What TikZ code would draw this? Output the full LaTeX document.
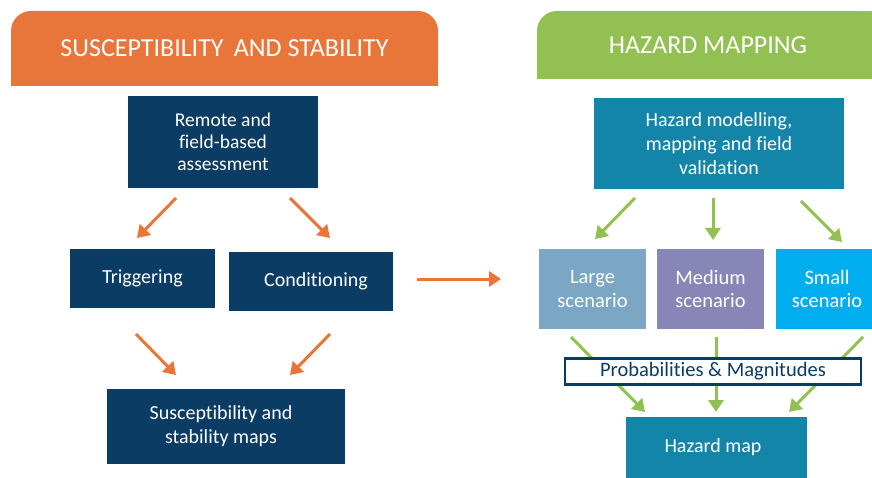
\documentclass[tikz,border=0pt]{standalone}
\usepackage{fontspec}
\setmainfont{Carlito}[Ligatures=NoCommon]
\usetikzlibrary{arrows.meta}
\definecolor{hdrorange}{HTML}{E8753A}
\definecolor{hdrgreen}{HTML}{93C052}
\definecolor{navyc}{HTML}{0B3C63}
\definecolor{tealc}{HTML}{1385A8}
\definecolor{largec}{HTML}{7BA7C4}
\definecolor{mediumc}{HTML}{8886B7}
\definecolor{smallc}{HTML}{00AEEF}
\tikzset{
  boxtext/.style={text=white, font=\fontsize{20}{24}\selectfont, align=center, inner sep=0pt},
  navybox/.style={boxtext, fill=navyc},
  tealbox/.style={boxtext, fill=tealc},
  hdrtext/.style={text=white, font=\fontsize{26}{30}\selectfont, inner sep=0pt},
  oarrow/.style={draw=hdrorange, line width=3pt, -{Triangle[length=12pt,width=15pt]}},
  garrow/.style={draw=hdrgreen, line width=3pt, -{Triangle[length=12pt,width=15pt]}},
}
\begin{document}
\begin{tikzpicture}[x=1pt,y=-1pt]
\useasboundingbox (0,0) rectangle (872,478);
\fill[white] (0,0) rectangle (872,478);
% headers
\fill[hdrorange, rounded corners=20pt] (11,11) rectangle (438,86);
\fill[hdrorange] (11,50) rectangle (438,86);
\node[hdrtext] (hleft) at (224.5,48) {SUSCEPTIBILITY\, AND STABILITY};
\fill[hdrgreen, rounded corners=20pt] (537,11) rectangle (872,79);
\fill[hdrgreen] (537,45) rectangle (872,79);
\fill[hdrgreen] (700,11) rectangle (872,79);
\node[hdrtext] (hright) at (708,45) {HAZARD MAPPING};
% left boxes
\node[navybox, minimum width=190pt, minimum height=92pt, font=\fontsize{19.5}{21.7}\selectfont] (remote) at (223,142) {Remote and\\field-based\\assessment};
\node[navybox, minimum width=145pt, minimum height=59pt] (trig) at (142.5,278.5) {\raisebox{-1pt}{Triggering}};
\node[navybox, minimum width=164pt, minimum height=59pt] (cond) at (311,281.5) {\raisebox{3pt}{\hspace{10pt}Conditioning}};
\node[navybox, minimum width=238pt, minimum height=75pt] (suscmap) at (226,426.5) {\hspace{-10pt}Susceptibility and\\\hspace{-10pt}stability maps};
% right boxes
\node[tealbox, minimum width=250pt, minimum height=91pt] (hmodel) at (719,143.5) {Hazard modelling,\\mapping and field\\validation};
\node[boxtext, fill=largec, minimum width=107pt, minimum height=80pt, font=\fontsize{20.5}{23.5}\selectfont] (large) at (592.5,289) {Large\\scenario};
\node[boxtext, fill=mediumc, minimum width=107pt, minimum height=80pt, font=\fontsize{20.5}{23.5}\selectfont] (medium) at (710.5,289) {Medium\\scenario};
\node[boxtext, fill=smallc, minimum width=96pt, minimum height=80pt, font=\fontsize{20.5}{23.5}\selectfont] (small) at (824,289) {\hspace{6pt}Small\\\hspace{6pt}scenario};
\node[tealbox, minimum width=181pt, minimum height=61pt] (hmap) at (716.5,447.5) {\raisebox{-3pt}{\hspace{-7pt}Hazard map}};
% orange arrows
\coordinate (o1s) at (176,198); \coordinate (o1e) at (137,238);
\coordinate (o2s) at (290,198); \coordinate (o2e) at (330,238);
\coordinate (o3s) at (136,334); \coordinate (o3e) at (176,375);
\coordinate (o4s) at (330,334); \coordinate (o4e) at (290,375);
\coordinate (o5s) at (417,279); \coordinate (o5e) at (501,279);
\draw[oarrow] (o1s) -- (o1e);
\draw[oarrow] (o2s) -- (o2e);
\draw[oarrow] (o3s) -- (o3e);
\draw[oarrow] (o4s) -- (o4e);
\draw[oarrow] (o5s) -- (o5e);
% green arrows top
\coordinate (g1s) at (635,198); \coordinate (g1e) at (595,239);
\coordinate (g2s) at (713,198); \coordinate (g2e) at (713,240);
\coordinate (g3s) at (801,201); \coordinate (g3e) at (842,242);
\draw[garrow] (g1s) -- (g1e);
\draw[garrow] (g2s) -- (g2e);
\draw[garrow] (g3s) -- (g3e);
% green arrows bottom
\coordinate (g4s) at (571,337); \coordinate (g4e) at (645,412);
\coordinate (g5s) at (716,337); \coordinate (g5e) at (716,412);
\coordinate (g6s) at (863,337); \coordinate (g6e) at (789,412);
\draw[garrow] (g4s) -- (g4e);
\draw[garrow] (g5s) -- (g5e);
\draw[garrow] (g6s) -- (g6e);
% probabilities box
\node[draw=navyc, line width=2.3pt, fill=white, minimum width=296pt, minimum height=26pt, inner sep=0pt, text=navyc, font=\fontsize{20.5}{24}\selectfont] (prob) at (713,371.5) {Probabilities \& Magnitudes};
\end{tikzpicture}
\end{document}
